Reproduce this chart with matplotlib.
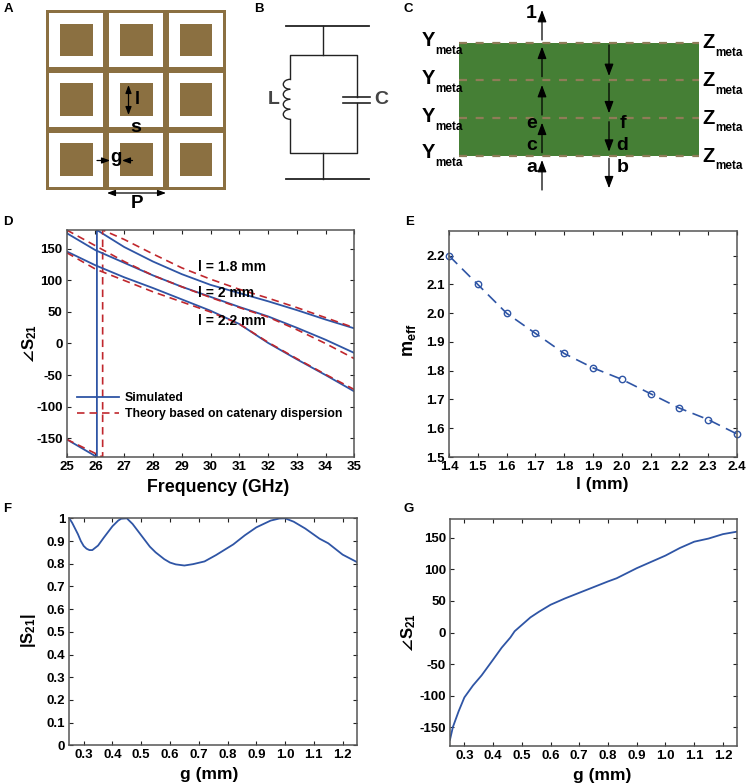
import matplotlib
matplotlib.use('Agg')
import matplotlib.pyplot as plt
import matplotlib.patches as patches
import numpy as np

plt.rcParams['font.family'] = ['Liberation Sans', 'DejaVu Sans']
plt.rcParams['font.weight'] = 'bold'
plt.rcParams['axes.labelweight'] = 'bold'
plt.rcParams['axes.unicode_minus'] = False
plt.rcParams['mathtext.fontset'] = 'custom'
plt.rcParams['mathtext.bf'] = 'Liberation Sans:bold'
plt.rcParams['mathtext.rm'] = 'Liberation Sans'
plt.rcParams['mathtext.default'] = 'bf'

W, H = 750, 783
blue = '#2F55A5'
red = '#C0272D'
gold = '#8B7041'
green = '#457F35'
dash_col = '#8F7C58'
spine_col = '#555555'

# panel D, phase vs frequency (jump at the wrap is part of the 1.8 mm series)
freq_18_sim = [25, 26.05, 26.05, 27, 28, 29, 30, 31, 32, 33, 34, 35]
phase_18_sim = [-152, -180, 180, 153, 130, 110, 93, 80, 67, 53, 38, 24]
freq_18_th = [25, 26.25, 26.25, 27, 28, 29, 30, 31, 32, 33, 34, 35]
phase_18_th = [-152, -180, 180, 165, 142, 120, 102, 86, 72, 57, 41, 25]
freq_d = [25, 26, 27, 28, 29, 30, 31, 32, 33, 34, 35]
phase_20_sim = [175, 148, 128, 108, 90, 74, 58, 43, 25, 6, -15]
phase_20_th = [180, 155, 130, 108, 90, 73, 57, 42, 22, 0, -24]
phase_22_sim = [146, 124, 105, 88, 70, 52, 31, 1, -25, -50, -76]
phase_22_th = [144, 118, 100, 82, 66, 50, 31, 2, -24, -49, -73]

# panel E
l_vals = [1.4, 1.5, 1.6, 1.7, 1.8, 1.9, 2.0, 2.1, 2.2, 2.3, 2.4]
m_eff = [2.2, 2.1, 2.0, 1.93, 1.86, 1.81, 1.77, 1.72, 1.67, 1.63, 1.58]

# panel F
g_f = [0.25, 0.26, 0.28, 0.29, 0.30, 0.31, 0.32, 0.33, 0.35, 0.37, 0.40, 0.42, 0.43, 0.45,
       0.47, 0.50, 0.53, 0.55, 0.58, 0.60, 0.62, 0.65, 0.68, 0.72, 0.76, 0.82, 0.86, 0.90,
       0.95, 0.98, 1.00, 1.03, 1.07, 1.12, 1.15, 1.20, 1.25]
s21_mag = [1.0, 0.98, 0.93, 0.90, 0.878, 0.866, 0.86, 0.86, 0.88, 0.915, 0.965, 0.99, 0.998, 1.0,
           0.975, 0.925, 0.875, 0.85, 0.82, 0.805, 0.797, 0.792, 0.798, 0.81, 0.838, 0.885, 0.925, 0.96,
           0.99, 0.999, 1.0, 0.985, 0.955, 0.91, 0.89, 0.84, 0.807]

# panel G
g_g = [0.25, 0.26, 0.28, 0.30, 0.33, 0.36, 0.40, 0.43, 0.46, 0.475, 0.50, 0.53, 0.56, 0.60,
       0.65, 0.70, 0.75, 0.80, 0.83, 0.90, 0.97, 1.00, 1.05, 1.10, 1.15, 1.20, 1.25]
s21_phase = [-170, -150, -125, -103, -84, -68, -43, -24, -8, 2, 12, 24, 33, 44,
             54, 63, 72, 81, 86, 102, 116, 122, 134, 144, 149, 156, 160]

fig = plt.figure(figsize=(W / 100, H / 100), dpi=100, facecolor='white')


def add_panel(left, right, top, bottom):
    ax = fig.add_axes([left / W, 1 - bottom / H, (right - left) / W, (bottom - top) / H])
    ax.tick_params(direction='in', top=True, right=True, length=3, width=0.8,
                   labelsize=9.5, pad=3, color='#222222')
    for spine in ax.spines.values():
        spine.set_color(spine_col)
        spine.set_linewidth(1.1)
    return ax


# overlay in pixel units for the schematics and panel letters
ov = fig.add_axes([0, 0, 1, 1])
ov.set_xlim(0, W)
ov.set_ylim(H, 0)
ov.axis('off')


def arrow(x0, y0, x1, y1, style='-|>', scale=9):
    ov.annotate('', xy=(x1, y1), xytext=(x0, y0),
                arrowprops=dict(arrowstyle=style + ',head_length=0.8,head_width=0.3', color='black',
                                lw=0.9, mutation_scale=scale, shrinkA=0, shrinkB=0))


for letter, x, y in [('A', 4, 9), ('B', 254, 9), ('C', 404, 9), ('D', 3, 222),
                     ('E', 405, 222), ('F', 3, 509), ('G', 403, 509)]:
    ov.text(x, y, letter, fontsize=9.5, ha='left', va='center')

# panel A, unit cells
ov.add_patch(patches.Rectangle((46.3, 10), 179.7, 179.7, fc=gold, ec='none'))
for cx in [49.3, 109.3, 169]:
    for cy in [13, 72.7, 132.7]:
        ov.add_patch(patches.Rectangle((cx, cy), 54, 54, fc='white', ec='none'))
        ov.add_patch(patches.Rectangle((cx + 10.7, cy + 10.7), 32.5, 32.5, fc=gold, ec='none'))
arrow(128.5, 85, 128.5, 115, '<|-|>', 6)
arrow(97, 160.5, 110, 160.5, '-|>', 6)
arrow(132.5, 160.5, 122, 160.5, '-|>', 6)
arrow(107, 193, 166, 193, '<|-|>', 6)
ov.text(137, 99, 'l', fontsize=13, ha='center', va='center')
ov.text(136, 128, 's', fontsize=14, ha='center', va='center')
ov.text(116, 157, 'g', fontsize=13.5, ha='center', va='center')
ov.text(137, 203, 'P', fontsize=13.5, ha='center', va='center')

# panel B, LC circuit
c_col = '#222222'
ov.plot([285.7, 368.7], [25.7, 25.7], color=c_col, lw=1.3)
ov.plot([285.7, 368.7], [179, 179], color=c_col, lw=1.3)
ov.plot([323.3, 323.3], [25.7, 55], color=c_col, lw=1)
ov.plot([323.3, 323.3], [152.7, 179], color=c_col, lw=1)
ov.plot([290.3, 290.3, 357, 357], [79.3, 55, 55, 97.3], color=c_col, lw=1)
ov.plot([290.3, 290.3, 357, 357], [119.3, 152.7, 152.7, 103], color=c_col, lw=1)
ov.plot([342.7, 369.7], [97.3, 97.3], color=c_col, lw=1.2)
ov.plot([342.7, 369.7], [103, 103], color=c_col, lw=1.2)
for yc in [84.3, 94.3, 104.3, 114.3]:
    ov.add_patch(patches.Arc((290.3, yc), 14, 10, theta1=90, theta2=270, color=c_col, lw=1))
ov.text(273.5, 100, 'L', fontsize=14, color='#444444', ha='center', va='center')
ov.text(381, 100, 'C', fontsize=14, color='#444444', ha='center', va='center')

# panel C, metasurface stack
ov.add_patch(patches.Rectangle((459.3, 42.7), 240, 113, fc=green, ec='none'))
for y in [42.5, 80, 118, 155.7]:
    ov.plot([459.3, 699.3], [y, y], color=dash_col, lw=1.6, linestyle=(0, (3.6, 3.9)))
for y0, y1 in [(40, 10), (76.7, 46.7), (115, 85), (152.7, 122.7), (190, 160)]:
    arrow(542, y0, 542, y1)
for y0, y1 in [(45, 76), (83.3, 113.3), (121.7, 151.7), (158.3, 188.3)]:
    arrow(609, y0, 609, y1)
for y_y, y_z in [(40, 43), (78, 81), (116, 118.5), (153, 156.5)]:
    ov.text(421.7, y_y, 'Y', fontsize=14.5, ha='left', va='center')
    ov.text(434.8, y_y + 10.5, 'meta', fontsize=8.5, ha='left', va='center')
    ov.text(702.5, y_z, 'Z', fontsize=14.5, ha='left', va='center')
    ov.text(715, y_z + 9.5, 'meta', fontsize=8.5, ha='left', va='center')
for s, x, y in [('1', 531, 14), ('e', 532, 124), ('c', 532, 146), ('a', 532, 168),
                ('f', 622.7, 124), ('d', 622, 146), ('b', 622.7, 167)]:
    ov.text(x, y, s, fontsize=14, ha='center', va='center')

# panel D
ax = add_panel(66.7, 354.3, 230, 457)
ax.plot(freq_18_sim, phase_18_sim, color=blue, lw=1.3, label='Simulated')
ax.plot(freq_18_th, phase_18_th, color=red, lw=1.2, ls=(0, (4.5, 3)),
        label='Theory based on catenary dispersion')
ax.plot(freq_d, phase_20_sim, color=blue, lw=1.3)
ax.plot(freq_d, phase_20_th, color=red, lw=1.2, ls=(0, (4.5, 3)))
ax.plot(freq_d, phase_22_sim, color=blue, lw=1.3)
ax.plot(freq_d, phase_22_th, color=red, lw=1.2, ls=(0, (4.5, 3)))
ax.set_xlim(25, 35)
ax.set_ylim(-180, 180)
ax.set_xticks(range(25, 36))
ax.set_yticks([-150, -100, -50, 0, 50, 100, 150])
ax.set_xlabel('Frequency (GHz)', fontsize=12.8, labelpad=4, x=0.526)
ax.set_ylabel(r'$\angle\mathbf{S}_{\mathrm{21}}$', fontsize=12)
ax.yaxis.set_label_coords(-0.098, 0.498)
ax.legend(loc='lower left', bbox_to_anchor=(0.02, 0.14), frameon=False, fontsize=8.8,
          handlelength=3.4, handletextpad=0.5, labelspacing=0.35, borderaxespad=0)
for txt, y in [('l = 1.8 mm', 122), ('l = 2 mm', 80), ('l = 2.2 mm', 35)]:
    ax.text(29.55, y, txt, fontsize=10, ha='left', va='center')

# panel E
ax = add_panel(449, 737, 231, 457)
ax.plot(l_vals, m_eff, color=blue, lw=1.2, ls=(0, (7, 4)), marker='o', ms=4.6, mfc='none',
        mew=1, clip_on=False)
ax.set_xlim(1.4, 2.4)
ax.set_ylim(1.5, 2.286)
ax.set_xticks(l_vals)
ax.set_xticklabels([f'{v:.1f}' for v in l_vals])
ax.set_yticks([1.5, 1.6, 1.7, 1.8, 1.9, 2.0, 2.1, 2.2])
ax.set_yticklabels(['1.5', '1.6', '1.7', '1.8', '1.9', '2.0', '2.1', '2.2'])
ax.set_xlabel('l (mm)', fontsize=12.5, labelpad=3, x=0.531)
ax.set_ylabel(r'$\mathbf{m}_{\mathrm{eff}}$', fontsize=13)
ax.yaxis.set_label_coords(-0.108, 0.518)

# panel F
g_ticks = [0.3, 0.4, 0.5, 0.6, 0.7, 0.8, 0.9, 1.0, 1.1, 1.2]
ax = add_panel(69.3, 357, 518.3, 745.3)
ax.plot(g_f, s21_mag, color=blue, lw=1.3)
ax.set_xlim(0.25, 1.25)
ax.set_ylim(0, 1)
ax.set_xticks(g_ticks)
ax.set_xticklabels([f'{v:.1f}' for v in g_ticks])
ax.set_yticks(np.arange(0, 11) / 10)
ax.set_yticklabels(['0', '0.1', '0.2', '0.3', '0.4', '0.5', '0.6', '0.7', '0.8', '0.9', '1'])
ax.set_xlabel('g (mm)', fontsize=12.5, labelpad=4, x=0.486)
ax.set_ylabel(r'$|\mathbf{S}_{\mathrm{21}}|$', fontsize=12)
ax.yaxis.set_label_coords(-0.11, 0.507)

# panel G
ax = add_panel(450, 737.3, 519, 746)
ax.plot(g_g, s21_phase, color=blue, lw=1.3)
ax.set_xlim(0.25, 1.25)
ax.set_ylim(-180, 180)
ax.set_xticks(g_ticks)
ax.set_xticklabels([f'{v:.1f}' for v in g_ticks])
ax.set_yticks([-150, -100, -50, 0, 50, 100, 150])
ax.set_xlabel('g (mm)', fontsize=12.5, labelpad=4, x=0.529)
ax.set_ylabel(r'$\angle\mathbf{S}_{\mathrm{21}}$', fontsize=12)
ax.yaxis.set_label_coords(-0.111, 0.502)

fig.savefig('out.png', dpi=100, facecolor='white')
